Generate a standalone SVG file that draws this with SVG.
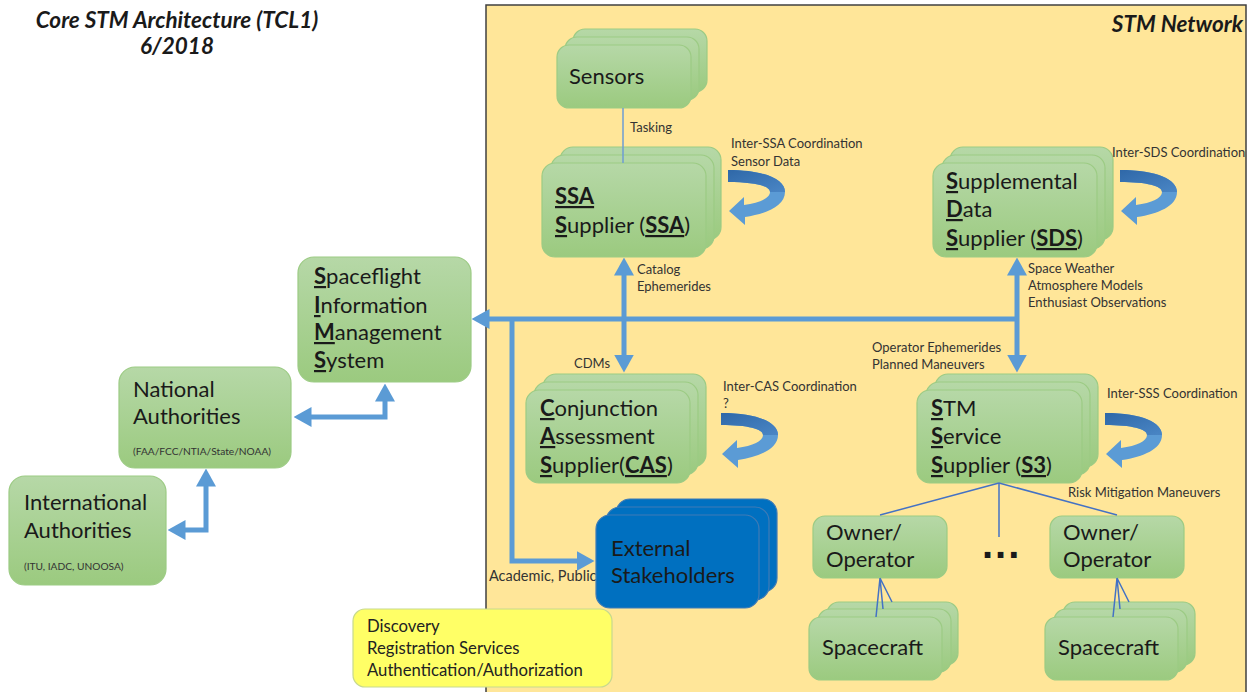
<svg xmlns="http://www.w3.org/2000/svg" xmlns:xlink="http://www.w3.org/1999/xlink" width="1253" height="692" viewBox="0 0 1253 692">
<defs>
<style>
text{font-family:Lato,"Open Sans","Liberation Sans",sans-serif;fill:#1a1a1a}
.t{font-size:22px}
.s{font-size:13px;fill:#333}
.xs{font-size:10.2px;fill:#333}
.y{font-size:16.7px;fill:#222}
.ttl{font-size:22.5px;font-weight:bold;font-style:italic}
.g{fill:url(#grn);stroke:#9CCB84;stroke-width:1.2}
.b{fill:#0070C0;stroke:#3F7BB5;stroke-width:1.2}
.k{font-weight:bold;text-decoration:underline}
.thick{fill:none;stroke:#5B9BD5;stroke-width:5}
.thin{fill:none;stroke:#4472C4;stroke-width:1.5}
</style>
<linearGradient id="grn" x1="0" y1="0" x2="0" y2="1">
<stop offset="0" stop-color="#B6D8A7"/>
<stop offset="1" stop-color="#9BCA7F"/>
</linearGradient>
<linearGradient id="dk" x1="0" y1="0" x2="1" y2="1">
<stop offset="0" stop-color="#2F68A8"/>
<stop offset="1" stop-color="#4A86C5"/>
</linearGradient>
<marker id="ah" viewBox="0 0 18 20" refX="0.5" refY="10" markerWidth="18" markerHeight="20" markerUnits="userSpaceOnUse" orient="auto-start-reverse">
<path d="M0,0 L18,10 L0,20 Z" fill="#5B9BD5"/>
</marker>
<g id="loop">
<path d="M0,0 C38,0 57,10 57,22 C57,36 38,44 17,47 L17,55 L1,41 L16,27 L16,35 C32,33 42,28 42,22 C42,16 27,12 0,12 Z" fill="#5B9BD5"/>
<path d="M0,0 C38,0 57,10 57,22 L42,22 C42,16 27,12 0,12 Z" fill="url(#dk)"/>
</g>
</defs>
<rect width="1253" height="692" fill="#fff"/>

<g id="title">
<text class="ttl" x="177" y="28" text-anchor="middle">Core STM Architecture (TCL1)</text>
<text class="ttl" x="177" y="54" text-anchor="middle">6/2018</text>
</g>

<g id="stm-network">
<rect x="486" y="5" width="760" height="700" fill="#FFE699" stroke="#404040" stroke-width="1.5"/>
<text class="ttl" x="1243" y="32" text-anchor="end">STM Network</text>
</g>

<g id="sensors">
<rect class="g" x="573" y="29" width="134" height="63" rx="12"/>
<rect class="g" x="565" y="37" width="134" height="63" rx="12"/>
<rect class="g" x="557" y="45" width="134" height="63" rx="12"/>
<text class="t" x="569" y="84">Sensors</text>
</g>

<g id="ssa">
<rect class="g" x="560" y="147" width="161" height="93" rx="13"/>
<rect class="g" x="551" y="155" width="163" height="94" rx="13"/>
<rect class="g" x="542" y="163" width="164" height="94" rx="13"/>
<text class="t" x="555" y="204"><tspan class="k">SSA</tspan></text>
<text class="t" x="555" y="233"><tspan class="k">S</tspan>upplier (<tspan class="k">SSA</tspan>)</text>
<use xlink:href="#loop" href="#loop" x="728" y="170"/>
</g>

<g id="sds">
<rect class="g" x="950" y="147" width="163" height="93" rx="13"/>
<rect class="g" x="942" y="155" width="163" height="94" rx="13"/>
<rect class="g" x="933" y="163" width="164" height="94" rx="13"/>
<text class="t" x="946" y="189"><tspan class="k">S</tspan>upplemental</text>
<text class="t" x="946" y="217"><tspan class="k">D</tspan>ata</text>
<text class="t" x="946" y="246"><tspan class="k">S</tspan>upplier (<tspan class="k">SDS</tspan>)</text>
<use xlink:href="#loop" href="#loop" x="1120" y="170"/>
</g>

<g id="cas">
<rect class="g" x="543" y="374" width="163" height="93" rx="13"/>
<rect class="g" x="534" y="382" width="164" height="93" rx="13"/>
<rect class="g" x="526" y="390" width="164" height="93" rx="13"/>
<text class="t" x="540" y="416"><tspan class="k">C</tspan>onjunction</text>
<text class="t" x="540" y="444"><tspan class="k">A</tspan>ssessment</text>
<text class="t" x="540" y="473"><tspan class="k">S</tspan>upplier(<tspan class="k">CAS</tspan>)</text>
<use xlink:href="#loop" href="#loop" x="721" y="413"/>
</g>

<g id="s3">
<rect class="g" x="935" y="374" width="163" height="93" rx="13"/>
<rect class="g" x="926" y="382" width="164" height="93" rx="13"/>
<rect class="g" x="917" y="390" width="165" height="93" rx="13"/>
<text class="t" x="931" y="416"><tspan class="k">S</tspan>TM</text>
<text class="t" x="931" y="444"><tspan class="k">S</tspan>ervice</text>
<text class="t" x="931" y="473"><tspan class="k">S</tspan>upplier (<tspan class="k">S3</tspan>)</text>
<use xlink:href="#loop" href="#loop" x="1105" y="413"/>
</g>

<g id="sims">
<rect class="g" x="298" y="257" width="173" height="125" rx="16"/>
<text class="t" x="314" y="284"><tspan class="k">S</tspan>paceflight</text>
<text class="t" x="314" y="313"><tspan class="k">I</tspan>nformation</text>
<text class="t" x="314" y="340"><tspan class="k">M</tspan>anagement</text>
<text class="t" x="314" y="368"><tspan class="k">S</tspan>ystem</text>
</g>

<g id="national">
<rect class="g" x="119" y="367" width="172" height="101" rx="16"/>
<text class="t" x="133" y="397">National</text>
<text class="t" x="133" y="424">Authorities</text>
<text class="xs" x="133" y="455">(FAA/FCC/NTIA/State/NOAA)</text>
</g>

<g id="international">
<rect class="g" x="9" y="476" width="157" height="109" rx="16"/>
<text class="t" x="24" y="510">International</text>
<text class="t" x="24" y="538">Authorities</text>
<text class="xs" x="24" y="570">(ITU, IADC, UNOOSA)</text>
</g>

<g id="external">
<text class="s" x="489" y="581" style="font-size:14.5px">Academic, Public</text>
<rect class="b" x="616" y="499" width="161" height="93" rx="14"/>
<rect class="b" x="606" y="507" width="163" height="93" rx="14"/>
<rect class="b" x="596" y="515" width="163" height="93" rx="14"/>
<text class="t" x="611" y="556">External</text>
<text class="t" x="611" y="583">Stakeholders</text>
</g>

<g id="owner1">
<rect class="g" x="813" y="516" width="134" height="62" rx="12"/>
<text class="t" x="826" y="540">Owner/</text>
<text class="t" x="826" y="567">Operator</text>
</g>
<g id="owner2">
<rect class="g" x="1050" y="516" width="134" height="62" rx="12"/>
<text class="t" x="1063" y="540">Owner/</text>
<text class="t" x="1063" y="567">Operator</text>
</g>
<g id="dots">
<text x="982" y="558" style="font-size:40px;font-weight:bold;letter-spacing:2px;font-family:'Liberation Sans',sans-serif">...</text>
</g>

<g id="spacecraft1">
<rect class="g" x="827" y="602" width="131" height="63" rx="12"/>
<rect class="g" x="818" y="609" width="133" height="63" rx="12"/>
<rect class="g" x="809" y="617" width="133" height="63" rx="12"/>
<text class="t" x="822" y="655">Spacecraft</text>
</g>
<g id="spacecraft2">
<rect class="g" x="1063" y="602" width="132" height="63" rx="12"/>
<rect class="g" x="1054" y="609" width="133" height="63" rx="12"/>
<rect class="g" x="1045" y="617" width="133" height="63" rx="12"/>
<text class="t" x="1058" y="655">Spacecraft</text>
</g>

<g id="discovery">
<rect x="353" y="609" width="259" height="78" rx="12" fill="#FFFF66" stroke="#C7D98E" stroke-width="1.2"/>
<text class="y" x="367" y="632">Discovery</text>
<text class="y" x="367" y="654">Registration Services</text>
<text class="y" x="367" y="676">Authentication/Authorization</text>
</g>

<g id="connectors">
<line x1="623" y1="108" x2="623" y2="163" stroke="#6E9DD3" stroke-width="1.5"/>
<line class="thick" x1="624" y1="275" x2="624" y2="355" marker-start="url(#ah)" marker-end="url(#ah)"/>
<line class="thick" x1="1017" y1="275" x2="1017" y2="355" marker-start="url(#ah)" marker-end="url(#ah)"/>
<line class="thick" x1="1019" y1="319" x2="489" y2="319" marker-end="url(#ah)"/>
<path class="thick" d="M512,319 V561 H577" marker-end="url(#ah)"/>
<path class="thick" d="M311,417 H385 V401" marker-start="url(#ah)" marker-end="url(#ah)"/>
<path class="thick" d="M185,530 H206 V486" marker-start="url(#ah)" marker-end="url(#ah)"/>
<line class="thin" x1="999" y1="483" x2="880" y2="515"/>
<line class="thin" x1="999" y1="483" x2="999" y2="537"/>
<line class="thin" x1="999" y1="483" x2="1117" y2="515"/>
<path class="thin" d="M880,578 L876,617 M880,578 L883,609 M880,578 L892,602"/>
<path class="thin" d="M1117,578 L1113,617 M1117,578 L1120,609 M1117,578 L1129,602"/>
</g>

<g id="labels">
<text class="s" x="630" y="132">Tasking</text>
<text class="s" x="731" y="148">Inter-SSA Coordination</text>
<text class="s" x="731" y="166">Sensor Data</text>
<text class="s" x="1112" y="157">Inter-SDS Coordination</text>
<text class="s" x="637" y="274">Catalog</text>
<text class="s" x="637" y="291">Ephemerides</text>
<text class="s" x="1028" y="273">Space Weather</text>
<text class="s" x="1028" y="290">Atmosphere Models</text>
<text class="s" x="1028" y="307">Enthusiast Observations</text>
<text class="s" x="574" y="368">CDMs</text>
<text class="s" x="723" y="391">Inter-CAS Coordination</text>
<text class="s" x="723" y="408">?</text>
<text class="s" x="872" y="352">Operator Ephemerides</text>
<text class="s" x="872" y="369">Planned Maneuvers</text>
<text class="s" x="1107" y="398">Inter-SSS Coordination</text>
<text class="s" x="1068" y="497">Risk Mitigation Maneuvers</text>
</g>
</svg>
